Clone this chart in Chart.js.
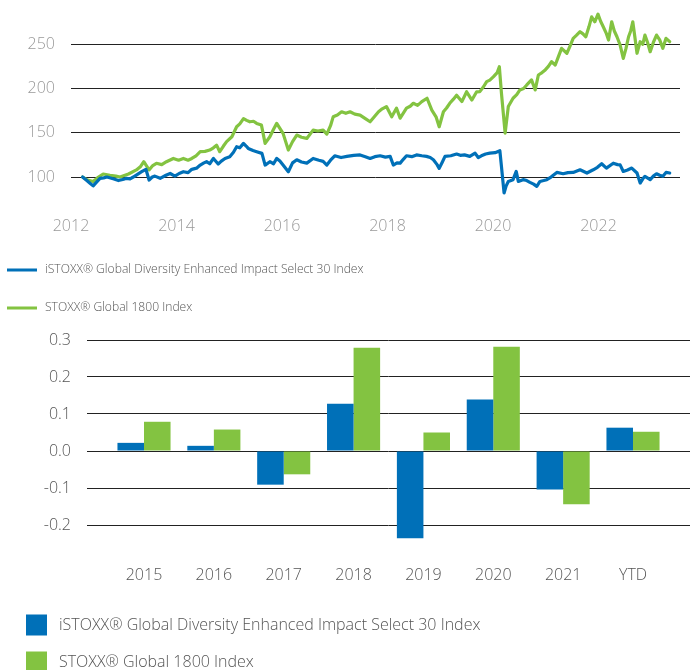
<!DOCTYPE html>
<html>
<head>
<meta charset="utf-8">
<script src="https://cdn.jsdelivr.net/npm/chart.js@4.4.1/dist/chart.umd.min.js"></script>
<style>
html,body{margin:0;padding:0;background:#fff;}
#wrapA{position:absolute;left:0;top:0;width:690px;height:320px;}
#wrapB{position:absolute;left:0;top:320px;width:690px;height:350px;}
</style>
</head>
<body>
<div id="wrapA"><canvas id="lineChart"></canvas></div>
<div id="wrapB"><canvas id="barChart"></canvas></div>
<script>
// ---------- data ----------
const seriesNames = [
  'iSTOXX® Global Diversity Enhanced Impact Select 30 Index',
  'STOXX® Global 1800 Index'
];

const diversityYears = [2012.22,2012.3,2012.36,2012.42,2012.48,2012.55,2012.62,2012.68,2012.8,2012.9,2013.0,2013.05,2013.12,2013.18,2013.26,2013.34,2013.42,2013.48,2013.54,2013.59,2013.69,2013.8,2013.88,2013.97,2014.05,2014.13,2014.22,2014.29,2014.38,2014.45,2014.52,2014.57,2014.63,2014.7,2014.79,2014.85,2014.92,2015.01,2015.08,2015.14,2015.2,2015.27,2015.32,2015.36,2015.45,2015.52,2015.62,2015.68,2015.77,2015.84,2015.9,2015.96,2016.02,2016.12,2016.2,2016.28,2016.37,2016.47,2016.59,2016.7,2016.78,2016.85,2016.92,2017.0,2017.12,2017.23,2017.36,2017.48,2017.58,2017.67,2017.76,2017.86,2017.96,2018.05,2018.11,2018.18,2018.24,2018.3,2018.36,2018.46,2018.55,2018.65,2018.74,2018.81,2018.87,2018.94,2018.98,2019.04,2019.09,2019.2,2019.31,2019.38,2019.46,2019.56,2019.66,2019.72,2019.78,2019.86,2019.94,2020.04,2020.13,2020.16,2020.21,2020.25,2020.29,2020.38,2020.44,2020.48,2020.57,2020.64,2020.7,2020.77,2020.83,2020.89,2020.96,2021.02,2021.1,2021.21,2021.33,2021.42,2021.52,2021.65,2021.78,2021.9,2021.98,2022.06,2022.15,2022.28,2022.36,2022.41,2022.47,2022.55,2022.63,2022.73,2022.79,2022.84,2022.88,2022.98,2023.04,2023.1,2023.16,2023.22,2023.28,2023.35];
const diversityValues = [100,96,93,90,94,98.5,99,100,98,96,97.5,98.5,98,100,103,106,108.7,96.6,100,101,98.5,102,104,101,104,106,105,108.7,110,113.5,116,117.3,115,121,114.7,118,121,123,128,134.2,133,138,135,132.3,130,128.6,126.7,113.5,117.3,115,121,118,113.5,106,116,119.5,117,115.7,121,119,117.7,113.5,119,124,122,123.3,124.5,125,123,121,123,124,122.5,123.3,113.5,116,115.7,120,124,123,125,124,123.3,122,119.5,114,109.8,117,123.3,124,126,124.5,125,123.3,127,122,124,126,127,127.5,129.7,112,82,90,95,97,106.3,95,97,96,94,92,89.4,95,96,97,100,105.2,103.7,105,105.2,108.2,104.5,108.2,111,115,110.1,115.6,114,113.7,106.3,108,110.1,104.5,93.2,98,100.8,97,101,103.7,102,100.8,105.2,104.5];

const globalYears = [2012.22,2012.3,2012.42,2012.5,2012.61,2012.74,2012.85,2012.93,2013.09,2013.24,2013.32,2013.38,2013.48,2013.55,2013.62,2013.72,2013.81,2013.94,2014.04,2014.13,2014.22,2014.29,2014.37,2014.45,2014.54,2014.63,2014.7,2014.76,2014.82,2014.89,2014.95,2015.05,2015.14,2015.2,2015.27,2015.33,2015.39,2015.46,2015.52,2015.61,2015.68,2015.77,2015.84,2015.9,2015.96,2016.02,2016.12,2016.2,2016.28,2016.37,2016.47,2016.59,2016.68,2016.78,2016.85,2016.92,2016.97,2017.05,2017.13,2017.21,2017.29,2017.38,2017.48,2017.58,2017.67,2017.75,2017.83,2017.9,2017.98,2018.08,2018.17,2018.24,2018.36,2018.43,2018.49,2018.57,2018.65,2018.75,2018.84,2018.92,2018.98,2019.06,2019.12,2019.18,2019.25,2019.31,2019.41,2019.5,2019.6,2019.69,2019.75,2019.82,2019.88,2019.94,2020.01,2020.08,2020.12,2020.16,2020.23,2020.29,2020.38,2020.45,2020.51,2020.58,2020.64,2020.73,2020.8,2020.86,2020.93,2020.99,2021.05,2021.11,2021.18,2021.24,2021.3,2021.4,2021.46,2021.52,2021.58,2021.65,2021.7,2021.76,2021.82,2021.87,2021.93,2021.99,2022.04,2022.09,2022.15,2022.19,2022.25,2022.3,2022.35,2022.41,2022.47,2022.52,2022.57,2022.61,2022.65,2022.69,2022.73,2022.79,2022.84,2022.88,2022.93,2022.98,2023.04,2023.1,2023.16,2023.22,2023.28,2023.35];
const globalValues = [100,97,95,99,103.4,102,101,100,103.4,108,112,117.3,108,113,115.5,114,117.3,121,119,121,119,121,124,128.6,129,130.5,133,136,128.6,135,140,145.5,156.8,160,166,164,162.4,163,160.6,158.7,138,145.5,154,160.6,155,149.3,130.5,140,147.4,145,143.6,153,152,153,148.5,158,168,170,173.7,172,173.7,171,170,166,162.4,168,173.7,177,179.6,168,177.8,166.5,177.8,180,183.3,181,185.2,189,175.6,168,156.8,173.7,178,183.3,188,192.5,185.2,196.3,187,196.3,196.5,202,207.8,209.5,213.4,218,224.6,194.7,149.6,179.6,189,193,198.4,200,204,209.7,198.4,215.3,218,221,225,230.3,226.6,236,245.4,239.8,248,256.7,260,264.2,262,258.5,270,281,275.4,284,276,269.8,262,254.8,275.4,265,258.5,249.1,234.1,245,258.5,265,275.4,258,239.8,252.9,250,260.4,252,241.6,252,260.4,255,245.4,256.7,252.9];

const lineTicksX = [2012, 2014, 2016, 2018, 2020, 2022];
const lineTicksY = [100, 150, 200, 250];

const barCategories = ['2015','2016','2017','2018','2019','2020','2021','YTD'];
const diversityReturns = [0.022, 0.014, -0.091, 0.128, -0.236, 0.139, -0.104, 0.063];
const globalReturns = [0.079, 0.058, -0.063, 0.279, 0.050, 0.282, -0.144, 0.052];
const barTicksY = [-0.2, -0.1, 0, 0.1, 0.2, 0.3];

// ---------- styles ----------
const BLUE = '#0070B8';
const GREEN = '#83C341';
const FONT = 'Open Sans';

const rowLegend = {
  id: 'rowLegend',
  afterDraw(chart, args, o) {
    const ctx = chart.ctx;
    ctx.save();
    ctx.font = `${o.weight} ${o.size}px "${FONT}"`;
    ctx.textBaseline = 'middle';
    ctx.textAlign = 'left';
    chart.data.datasets.forEach((ds, i) => {
      const y = o.top + i * o.rowGap;
      ctx.fillStyle = ds.borderColor;
      ctx.fillRect(o.left, y - o.markerH / 2, o.markerW, o.markerH);
      ctx.fillStyle = o.color;
      ctx.fillText(ds.label, o.textX, y);
    });
    ctx.restore();
  }
};

function fixYAxis(width) {
  return s => { s.width = width; s.paddingTop = 0; s.paddingBottom = 0; };
}
function fixXAxis(height) {
  return s => { s.height = height; };
}

// ---------- line chart ----------
new Chart(document.getElementById('lineChart'), {
  type: 'line',
  data: {
    datasets: [
      { label: seriesNames[0], data: diversityYears.map((x, i) => ({ x, y: diversityValues[i] })),
        borderColor: BLUE, backgroundColor: BLUE },
      { label: seriesNames[1], data: globalYears.map((x, i) => ({ x, y: globalValues[i] })),
        borderColor: GREEN, backgroundColor: GREEN }
    ]
  },
  options: {
    responsive: true, maintainAspectRatio: false, animation: false,
    elements: { line: { borderWidth: 3.2, tension: 0, borderJoinStyle: 'round', borderCapStyle: 'round' }, point: { radius: 0 } },
    layout: { autoPadding: false, padding: { left: 0, right: 10, top: 0, bottom: 84 } },
    plugins: {
      legend: { display: false }, tooltip: { enabled: false },
      rowLegend: { top: 270, rowGap: 38, left: 7, markerW: 30, markerH: 3, textX: 45, size: 12.1, weight: 300, color: '#555' }
    },
    scales: {
      x: {
        type: 'linear', min: 2012, max: 2023.545,
        afterBuildTicks: s => { s.ticks = lineTicksX.map(v => ({ value: v })); },
        afterFit: fixXAxis(28),
        grid: { display: false, drawTicks: false }, border: { display: false },
        ticks: { callback: v => String(v), color: '#999', font: { family: FONT, size: 16, weight: 300 }, padding: 9, maxRotation: 0, autoSkip: false }
      },
      y: {
        min: 65, max: 300,
        afterBuildTicks: s => { s.ticks = lineTicksY.map(v => ({ value: v })); },
        afterFit: fixYAxis(71),
        grid: { color: '#222', lineWidth: 1, drawTicks: false }, border: { display: false },
        ticks: { color: '#999', font: { family: FONT, size: 16, weight: 300 }, padding: 16 }
      }
    }
  },
  plugins: [rowLegend]
});

// ---------- bar chart ----------
new Chart(document.getElementById('barChart'), {
  type: 'bar',
  data: {
    datasets: [
      { label: seriesNames[0], data: diversityReturns.map((y, i) => ({ x: i, y })), backgroundColor: BLUE, borderColor: BLUE },
      { label: seriesNames[1], data: globalReturns.map((y, i) => ({ x: i, y })), backgroundColor: GREEN, borderColor: GREEN }
    ]
  },
  options: {
    responsive: true, maintainAspectRatio: false, animation: false,
    categoryPercentage: 0.76, barPercentage: 1,
    layout: { autoPadding: false, padding: { left: 0, right: 0, top: 20, bottom: 85 } },
    plugins: {
      legend: { display: false }, tooltip: { enabled: false },
      rowLegend: { top: 305, rowGap: 37, left: 26, markerW: 21, markerH: 21, textX: 59, size: 16, weight: 300, color: '#555' }
    },
    scales: {
      x: {
        type: 'linear', min: -0.816, max: 7.816, offset: false,
        afterBuildTicks: s => { s.ticks = barCategories.map((c, i) => ({ value: i })); },
        afterFit: fixXAxis(23),
        grid: { display: false, drawTicks: false }, border: { display: false },
        ticks: { callback: v => barCategories[v], color: '#555', font: { family: FONT, size: 16, weight: 300 }, padding: 4, maxRotation: 0, autoSkip: false }
      },
      y: {
        min: -0.3, max: 0.3,
        afterBuildTicks: s => { s.ticks = barTicksY.map(v => ({ value: v })); },
        afterFit: fixYAxis(87),
        grid: { color: '#222', lineWidth: 1, drawTicks: false }, border: { display: false },
        ticks: { callback: v => v.toFixed(1), color: '#555', font: { family: FONT, size: 16, weight: 300 }, padding: 16 }
      }
    }
  },
  plugins: [rowLegend]
});
</script>
</body>
</html>
